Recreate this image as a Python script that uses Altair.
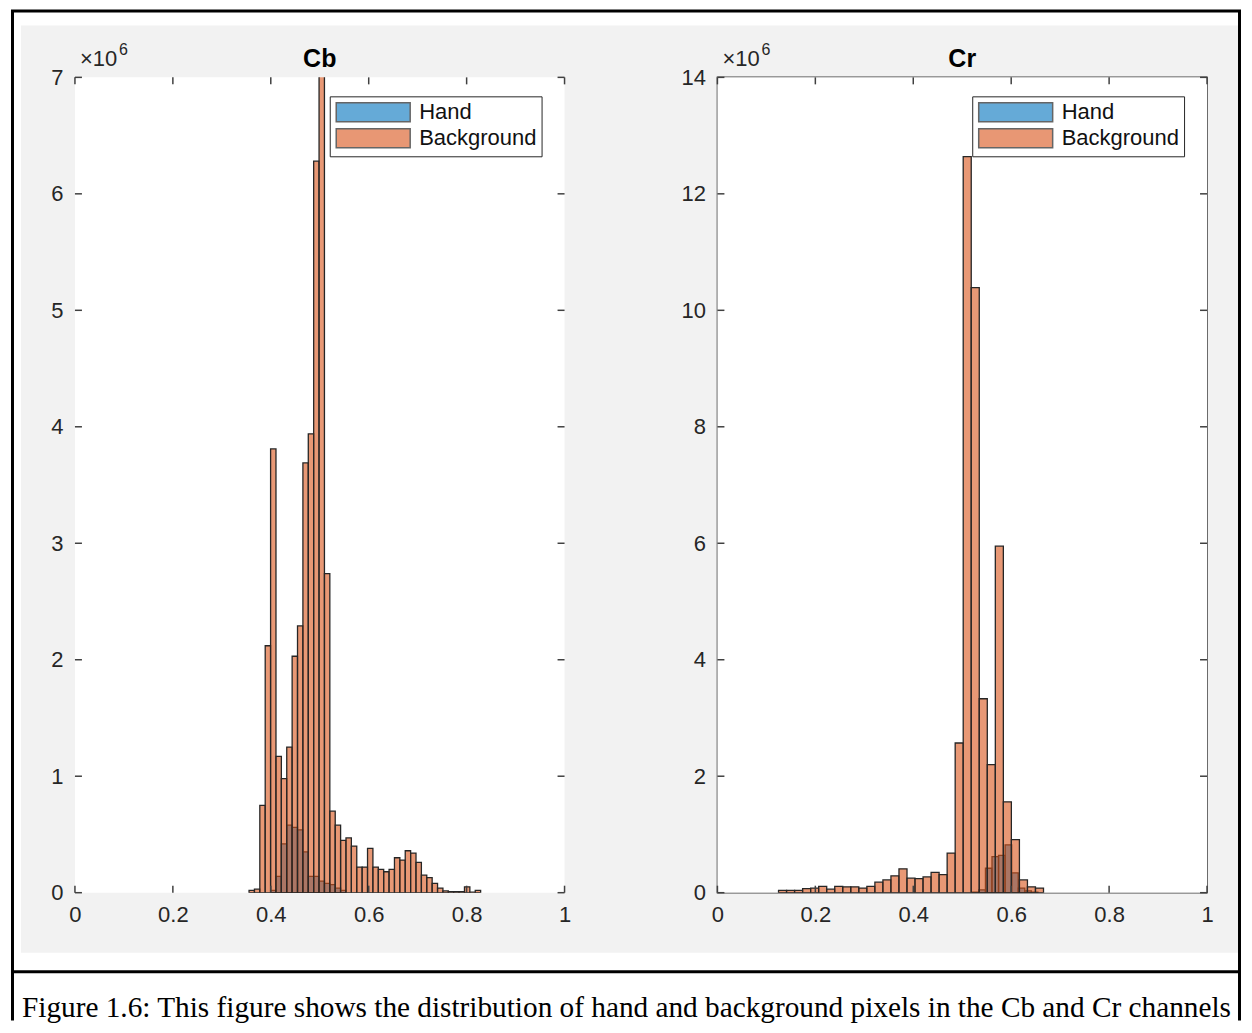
import altair as alt
import pandas as pd

# ---------------- data (pixel counts, in millions) ----------------
# Cb channel
cb_bin_start = 0.3556
cb_bin_width = 0.0110
cb_background = [0.02, 0.03, 0.75, 2.12, 3.81, 1.17, 0.98, 1.25, 2.03, 2.29,
                 3.69, 3.94, 6.28, 7.05, 2.74, 0.70, 0.58, 0.45, 0.47, 0.40,
                 0.22, 0.22, 0.38, 0.22, 0.20, 0.18, 0.20, 0.30, 0.28, 0.36,
                 0.34, 0.26, 0.15, 0.13, 0.08, 0.04, 0.015, 0.01, 0.01, 0.01,
                 0.05, 0.005, 0.02]
cb_hand_start = 0.3996
cb_hand_width = 0.0110
cb_hand = [0.02, 0.14, 0.42, 0.58, 0.56, 0.54, 0.35, 0.14, 0.14, 0.10,
           0.08, 0.07, 0.04, 0.02]

# Cr channel
cr_bin_start = 0.1248
cr_bin_width = 0.0164
cr_background = [0.04, 0.04, 0.04, 0.07, 0.08, 0.11, 0.06, 0.11, 0.10, 0.10,
                 0.08, 0.11, 0.18, 0.22, 0.29, 0.41, 0.25, 0.24, 0.27, 0.35,
                 0.31, 0.68, 2.57, 12.64, 10.39, 3.33, 2.20, 5.95, 1.56, 0.91,
                 0.22, 0.10, 0.08]
cr_hand_start = 0.5206
cr_hand_width = 0.0134
cr_hand = [0.01, 0.05, 0.42, 0.62, 0.64, 0.82, 0.34, 0.08, 0.03, 0.01]

series_names = ["Hand", "Background"]
series_colors = ["#0072BD", "#D95319"]

x_ticks = [0, 0.2, 0.4, 0.6, 0.8, 1]
cb_y_ticks = [0, 1, 2, 3, 4, 5, 6, 7]
cr_y_ticks = [0, 2, 4, 6, 8, 10, 12, 14]
panel_titles = ["Cb", "Cr"]
exponent_text = ["×10", "6"]
caption = ("Figure 1.6: This figure shows the distribution of hand and background "
           "pixels in the Cb and Cr channels")

# ---------------- helpers ----------------
W, H = 490, 816
FONT = "Liberation Sans"
AX = "#404040"


def hist_rows(name, start, width, counts):
    return [{"series": name, "x0": start + i * width, "x1": start + (i + 1) * width,
             "count": c} for i, c in enumerate(counts)]


def one():
    return alt.Chart(pd.DataFrame({"a": [0]}))


def panel(title, hand, background, ymax, yticks, decorate):
    df = pd.DataFrame(hand + background)  # hand first -> background drawn on top
    xs = alt.Scale(domain=[0, 1], nice=False, zero=False)
    ys = alt.Scale(domain=[0, ymax], nice=False)
    xaxis = alt.Axis(values=x_ticks, labelExpr="format(datum.value, '~g')", title=None,
                     labelFlush=False, labelPadding=12, tickSize=0, domain=False,
                     grid=False, zindex=1)
    yaxis = alt.Axis(values=yticks, format="d", title=None, labelPadding=12,
                     tickSize=0, domain=False, grid=False, zindex=1)

    layers = []
    if decorate:
        layers.append(one().mark_rect(color="#F2F2F2").encode(
            x=alt.value(-54), x2=alt.value(1164), y=alt.value(-52), y2=alt.value(876)))
    layers.append(one().mark_rect(color="white").encode(
        x=alt.value(0), x2=alt.value(W), y=alt.value(0), y2=alt.value(H)))

    bars = alt.Chart(df).mark_bar(fillOpacity=0.6, stroke="#262626", strokeWidth=1.3,
                                  clip=True).encode(
        x=alt.X("x0:Q", scale=xs, axis=xaxis),
        x2="x1:Q",
        y=alt.Y("count:Q", scale=ys, axis=yaxis, stack=None),
        y2=alt.datum(0),
        fill=alt.Fill("series:N",
                      scale=alt.Scale(domain=series_names, range=series_colors),
                      legend=alt.Legend(title=None, orient="none", legendX=255, legendY=19,
                                        direction="vertical", strokeColor="#262626",
                                        fillColor="white", padding=5,
                                        symbolType="M-3.895,-1H3.895V1H-3.895Z",
                                        symbolSize=361, symbolOffset=27.5,
                                        symbolStrokeColor="#000000",
                                        symbolStrokeWidth=1.5, symbolOpacity=0.6,
                                        labelFont=FONT, labelFontSize=22,
                                        labelColor="#111111", labelOffset=35,
                                        rowPadding=0, labelLimit=300)),
    )
    layers.append(bars)

    xt = alt.Chart(pd.DataFrame({"t": x_ticks}))
    yt = alt.Chart(pd.DataFrame({"t": yticks}))
    tick_style = dict(color=AX, strokeWidth=1.5)
    layers.append(xt.mark_rule(**tick_style).encode(
        x=alt.X("t:Q", scale=xs, axis=xaxis), y=alt.value(H), y2=alt.value(H - 7)))
    layers.append(xt.mark_rule(**tick_style).encode(
        x=alt.X("t:Q", scale=xs, axis=xaxis), y=alt.value(0), y2=alt.value(7)))
    layers.append(yt.mark_rule(**tick_style).encode(
        y=alt.Y("t:Q", scale=ys, axis=yaxis), x=alt.value(0), x2=alt.value(7)))
    layers.append(yt.mark_rule(**tick_style).encode(
        y=alt.Y("t:Q", scale=ys, axis=yaxis), x=alt.value(W - 7), x2=alt.value(W)))

    layers.append(one().mark_text(text=title, font=FONT, fontSize=25, fontWeight="bold",
                                  color="#000000", align="center",
                                  baseline="alphabetic").encode(
        x=alt.value(W / 2), y=alt.value(-10)))
    layers.append(one().mark_text(text=exponent_text[0], font=FONT, fontSize=22,
                                  color="#262626", align="left",
                                  baseline="alphabetic").encode(
        x=alt.value(5), y=alt.value(-11)))
    layers.append(one().mark_text(text=exponent_text[1], font=FONT, fontSize=16,
                                  color="#262626", align="left",
                                  baseline="alphabetic").encode(
        x=alt.value(44), y=alt.value(-22)))

    if decorate:
        frame = dict(color="#000000", strokeWidth=3)
        layers.append(one().mark_rule(**frame).encode(
            x=alt.value(-62.5), y=alt.value(-66.5), y2=alt.value(944)))
        layers.append(one().mark_rule(**frame).encode(
            x=alt.value(1165.5), y=alt.value(-66.5), y2=alt.value(944)))
        layers.append(one().mark_rule(**frame).encode(
            x=alt.value(-64), x2=alt.value(1167), y=alt.value(-66.5)))
        layers.append(one().mark_rule(**frame).encode(
            x=alt.value(-64), x2=alt.value(1167), y=alt.value(895)))
        layers.append(one().mark_text(text=caption, font="Liberation Serif", fontSize=29.3,
                                      color="#000000", align="left",
                                      baseline="alphabetic").encode(
            x=alt.value(-53), y=alt.value(940)))

    return alt.layer(*layers).properties(width=W, height=H)


cb = panel(panel_titles[0], hist_rows("Hand", cb_hand_start, cb_hand_width, cb_hand),
           hist_rows("Background", cb_bin_start, cb_bin_width, cb_background),
           7, cb_y_ticks, True)
cr = panel(panel_titles[1], hist_rows("Hand", cr_hand_start, cr_hand_width, cr_hand),
           hist_rows("Background", cr_bin_start, cr_bin_width, cr_background),
           14, cr_y_ticks, False)

chart = alt.hconcat(cb, cr, spacing=153, bounds="flush").resolve_scale(
    fill="independent").resolve_legend(fill="independent").configure(
    background="white", padding=0).configure_view(
    stroke=AX, strokeWidth=1.5).configure_axis(
    labelFont=FONT, labelFontSize=22, labelColor="#262626")

chart.save("out.html", embed_options={"renderer": "svg", "actions": False})
